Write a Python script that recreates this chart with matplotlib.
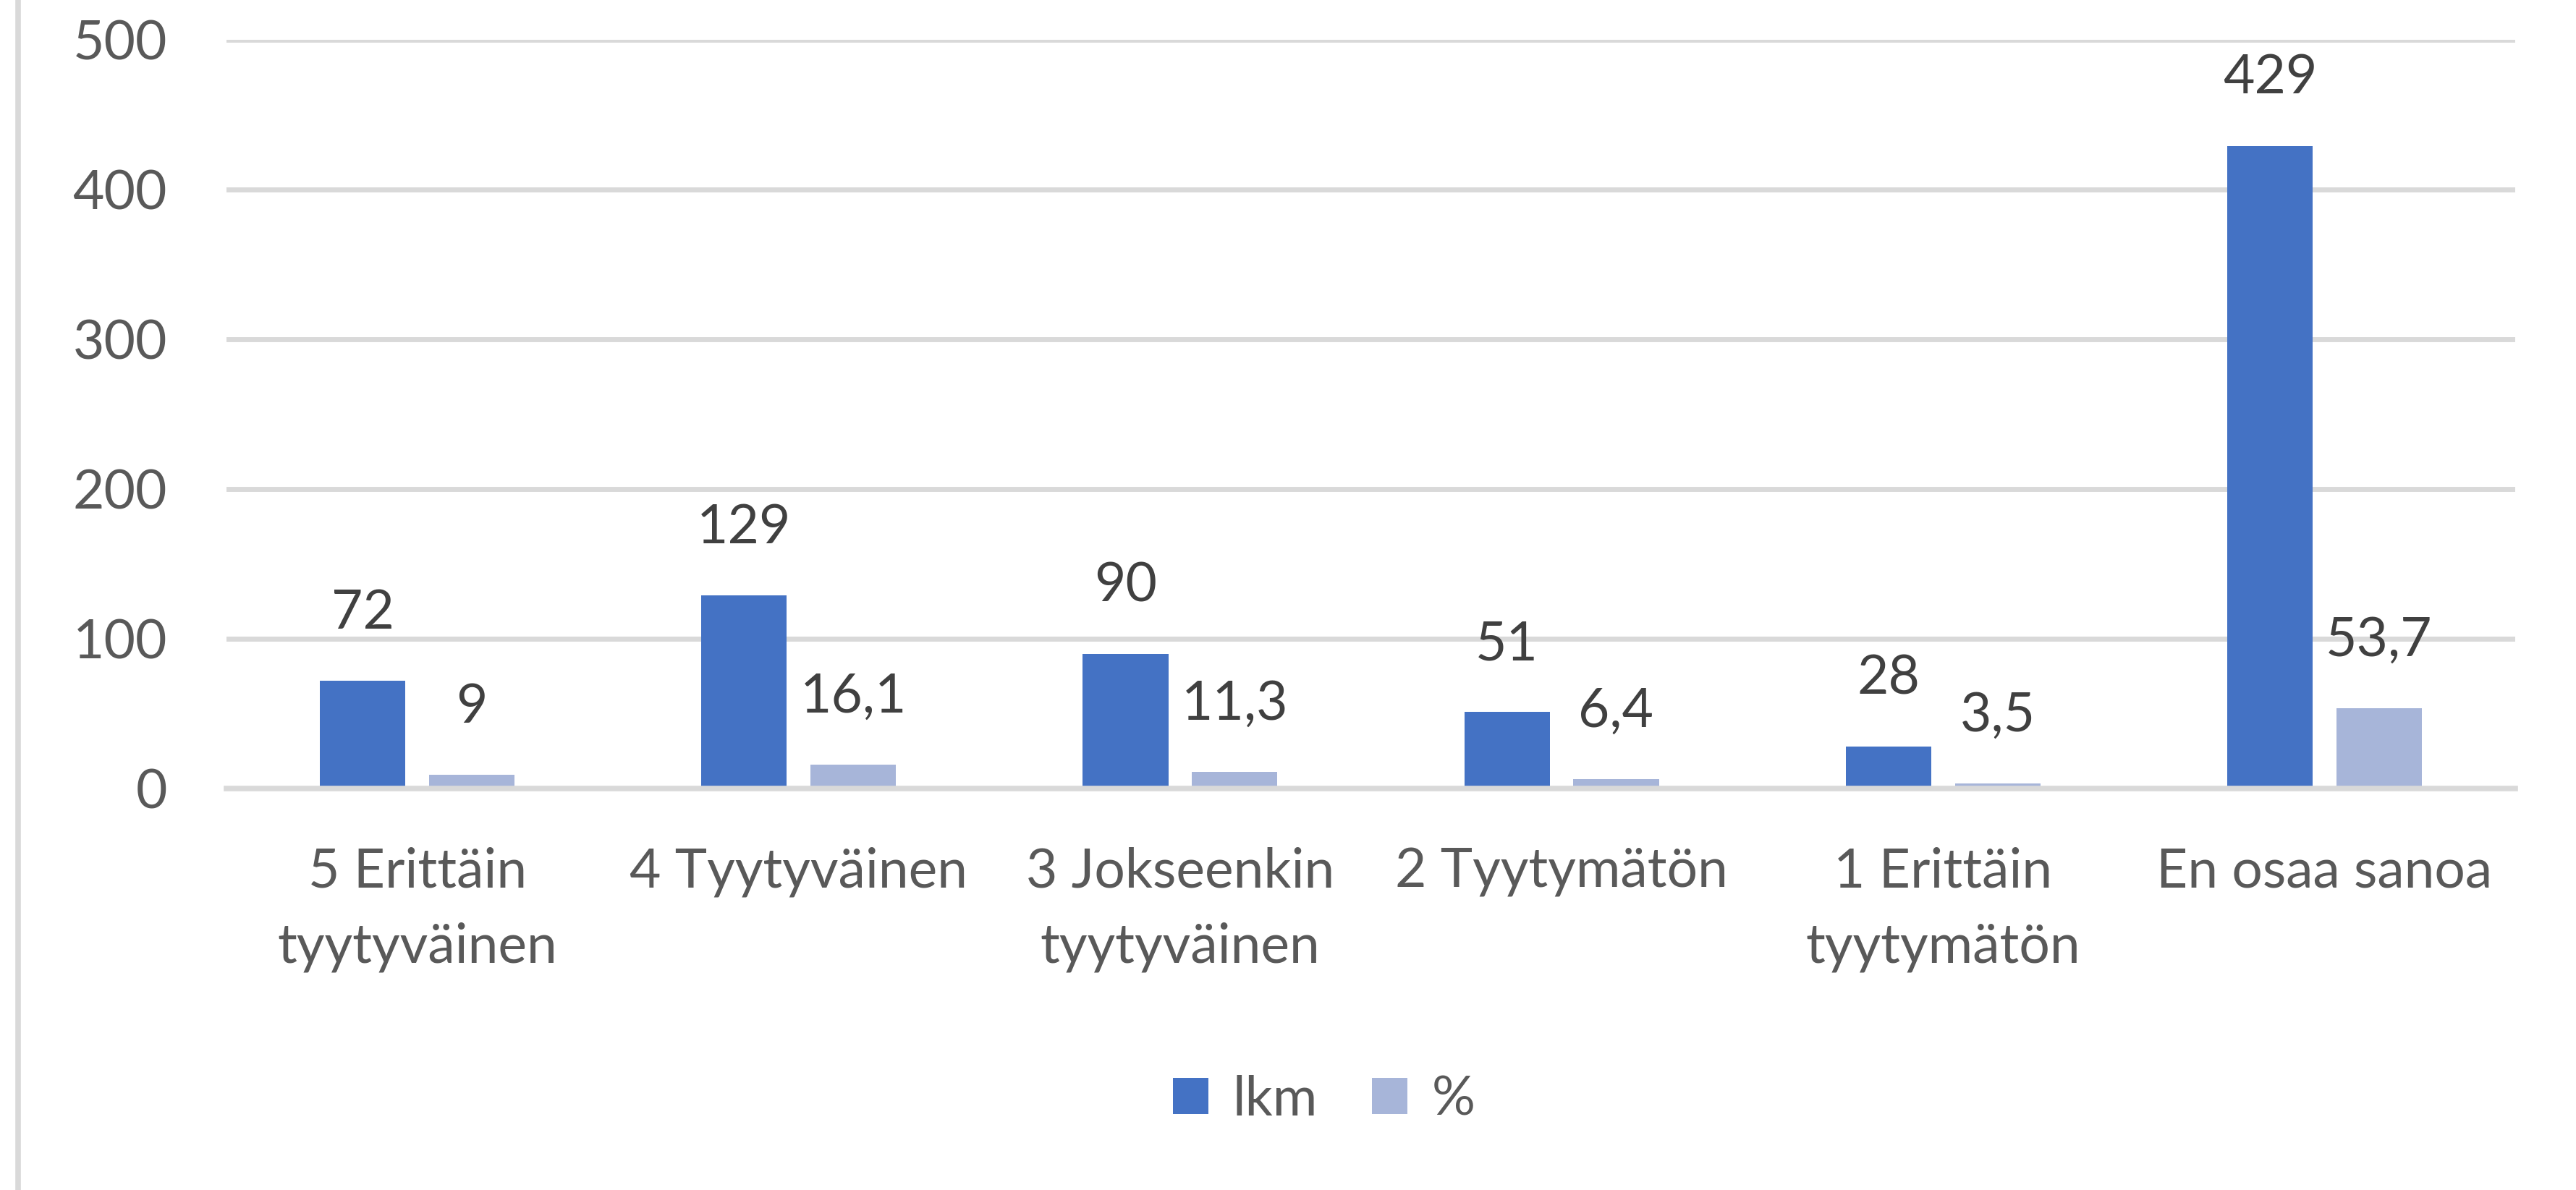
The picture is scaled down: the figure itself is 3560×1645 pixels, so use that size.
import matplotlib
matplotlib.use("Agg")
import matplotlib.pyplot as plt
import numpy as np
from matplotlib.patches import Patch
from matplotlib.lines import Line2D

categories = ["5 Erittäin\ntyytyväinen", "4 Tyytyväinen", "3 Jokseenkin\ntyytyväinen",
              "2 Tyytymätön", "1 Erittäin\ntyytymätön", "En osaa sanoa"]
lkm = [72, 129, 90, 51, 28, 429]
pct = [9, 16.1, 11.3, 6.4, 3.5, 53.7]
series_names = ["lkm", "%"]
yticks = [0, 100, 200, 300, 400, 500]

C1 = "#4472C4"
C2 = "#A7B5D9"
GRID = "#D9D9D9"

plt.rcParams['font.family'] = ['Lato', 'DejaVu Sans']

W, H, DPI = 3560, 1645, 100
fig = plt.figure(figsize=(W / DPI, H / DPI), dpi=DPI)
ax = fig.add_axes([313 / W, 1 - 1090 / H, (3476 - 313) / W, (1090 - 54.5) / H])

x = np.arange(len(categories))
bw = 0.224
off = 0.143
b1 = ax.bar(x - off, lkm, bw, color=C1, zorder=3)
b2 = ax.bar(x + off, pct, bw, color=C2, zorder=3)

ax.set_xlim(-0.5, len(categories) - 0.5)
ax.set_ylim(0, 500)
ax.set_yticks(yticks)
ax.yaxis.grid(True, color=GRID, linewidth=5, zorder=0)
ax.set_axisbelow(True)
ax.axhline(0, color=GRID, linewidth=5.5, zorder=4, clip_on=False)
for s in ax.spines.values():
    s.set_visible(False)
ax.tick_params(axis='both', length=0, labelsize=54, labelcolor="#595959")
ax.tick_params(axis='y', pad=59)
ax.tick_params(axis='x', pad=58)
ax.set_xticks(x)
ax.set_xticklabels(categories, linespacing=1.62)


def fmt(v):
    if float(v).is_integer():
        return str(int(v))
    return f"{v}".replace(".", ",")


for xs, vals in ((x - off, lkm), (x + off, pct)):
    for xi, v in zip(xs, vals):
        ax.annotate(fmt(v), (xi, v), xytext=(0, 52), textcoords="offset points",
                    ha="center", va="baseline", fontsize=54, color="#404040")

# left border of chart area
fig.add_artist(Line2D([25 / W, 25 / W], [0, 1], transform=fig.transFigure,
                      color=GRID, linewidth=5.5))

handles = [Patch(facecolor=C1), Patch(facecolor=C2)]
fig.legend(handles, series_names, loc="center", bbox_to_anchor=(1830 / W, 1 - 1520 / H),
           ncol=2, frameon=False, fontsize=54, labelcolor="#595959",
           handlelength=0.65, handleheight=0.65, handletextpad=0.45, columnspacing=1.0)

fig.savefig("out.png", dpi=DPI, facecolor="white")
